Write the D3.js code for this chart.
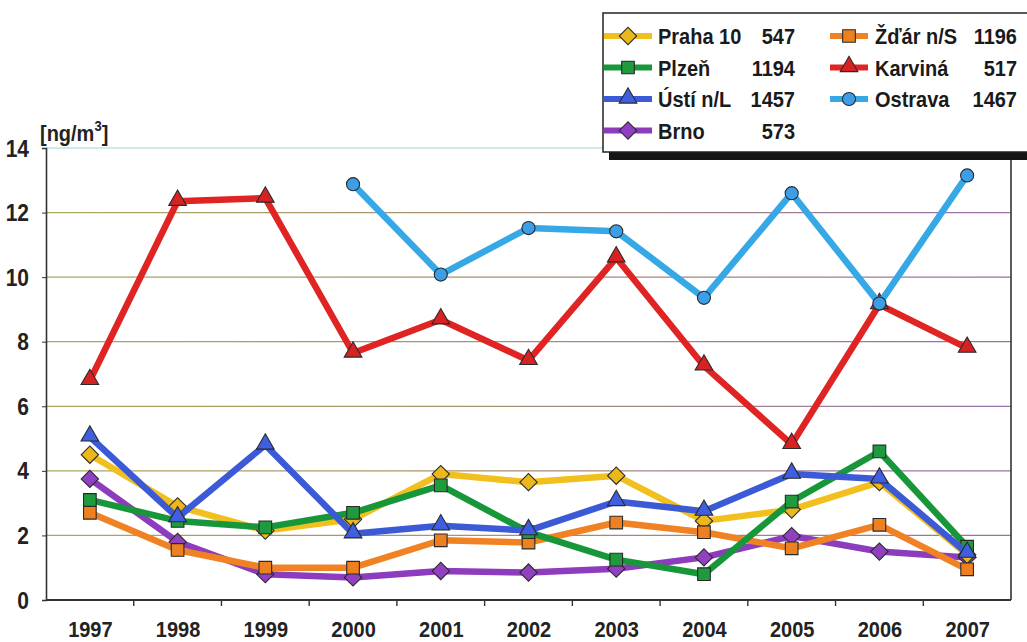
<!DOCTYPE html>
<html>
<head>
<meta charset="utf-8">
<script src="https://cdn.jsdelivr.net/npm/d3@7"></script>
<style>
  html, body { margin: 0; padding: 0; background: #fff; }
  svg { display: block; font-family: "Liberation Sans", Arial, sans-serif; }
</style>
</head>
<body>
<svg id="chart" width="1027" height="642"></svg>
<script>
// Annual mean concentrations [ng/m3] at monitoring stations, 1997–2007
const years = ["1997","1998","1999","2000","2001","2002","2003","2004","2005","2006","2007"];
const yTicks = [0, 2, 4, 6, 8, 10, 12, 14];
const unitLabel = "[ng/m";

const praha   = [4.5, 2.9, 2.15, 2.5, 3.9, 3.65, 3.85, 2.45, 2.8, 3.65, 1.4];
const plzen   = [3.1, 2.45, 2.25, 2.7, 3.55, 2.1, 1.25, 0.8, 3.05, 4.6, 1.65];
const usti    = [5.05, 2.55, 4.8, 2.05, 2.3, 2.15, 3.05, 2.75, 3.9, 3.75, 1.45];
const brno    = [3.75, 1.8, 0.8, 0.7, 0.9, 0.85, 0.97, 1.32, 1.98, 1.5, 1.32];
const zdar    = [2.7, 1.55, 1.0, 1.0, 1.85, 1.78, 2.4, 2.1, 1.6, 2.33, 0.95];
const karvina = [6.8, 12.35, 12.45, 7.65, 8.68, 7.42, 10.6, 7.25, 4.82, 9.15, 7.8];
const ostrava = [null, null, null, 12.88, 10.08, 11.52, 11.42, 9.36, 12.6, 9.18, 13.15];

const names   = ["Praha 10", "Plzeň", "Ústí n/L", "Brno", "Žďár n/S", "Karviná", "Ostrava"];
const codes   = ["547", "1194", "1457", "573", "1196", "517", "1467"];

const series = [
  { name: names[0], code: codes[0], values: praha,   color: "#f2c01e", fill: "#eab81c", shape: "diamond" },
  { name: names[1], code: codes[1], values: plzen,   color: "#18963a", fill: "#1f9a3c", shape: "square" },
  { name: names[2], code: codes[2], values: usti,    color: "#3d5ad6", fill: "#3f5ee0", shape: "triangle" },
  { name: names[3], code: codes[3], values: brno,    color: "#8c3cbc", fill: "#9140c2", shape: "diamond" },
  { name: names[4], code: codes[4], values: zdar,    color: "#f08224", fill: "#ee8020", shape: "square" },
  { name: names[5], code: codes[5], values: karvina, color: "#e02424", fill: "#d82222", shape: "triangle" },
  { name: names[6], code: codes[6], values: ostrava, color: "#36a8e6", fill: "#3d9ee8", shape: "circle" }
];
// painting order, back to front
const drawOrder = [3, 0, 4, 1, 2, 5, 6];

const svg = d3.select("#chart");
const plot = { left: 46, right: 1011, top: 148, bottom: 600 };
const stretch = 1.12;   // tall lettering
const fontSize = 20;

const x = d3.scalePoint().domain(years).range([plot.left, plot.right]).padding(0.5);
const xb = d3.scaleBand().domain(years).range([plot.left, plot.right]);
const y = d3.scaleLinear().domain([0, 14]).range([plot.bottom, plot.top]);

// gridlines shade from olive on the left to violet on the right
const defs = svg.append("defs");
const grad = defs.append("linearGradient").attr("id", "gridShade")
  .attr("gradientUnits", "userSpaceOnUse")
  .attr("x1", plot.left).attr("x2", plot.right).attr("y1", 0).attr("y2", 0);
grad.append("stop").attr("offset", "0%").attr("stop-color", "#a9a860");
grad.append("stop").attr("offset", "45%").attr("stop-color", "#a89070");
grad.append("stop").attr("offset", "100%").attr("stop-color", "#9a70a8");

svg.append("g").selectAll("line")
  .data(yTicks.filter(d => d > 0))
  .join("line")
  .attr("x1", plot.left).attr("x2", plot.right)
  .attr("y1", d => y(d)).attr("y2", d => y(d))
  .attr("stroke", d => d === 14 ? "#bfe0e0" : "url(#gridShade)")
  .attr("stroke-width", 1.3);

// y axis
const yAxis = svg.append("g")
  .attr("transform", `translate(${plot.left},0)`)
  .call(d3.axisLeft(y).tickValues(yTicks).tickSize(4).tickPadding(13));
yAxis.select(".domain").attr("stroke", "#333").attr("stroke-width", 1.6);
yAxis.selectAll(".tick line").attr("stroke", "#333");
yAxis.selectAll(".tick text")
  .attr("font-size", fontSize + 1).attr("font-weight", "bold").attr("fill", "#222")
  .attr("font-family", "Liberation Sans, Arial, sans-serif")
  .attr("y", 0)
  .attr("dy", "0.34em")
  .attr("transform", `scale(1,${stretch})`);

// right frame
svg.append("line")
  .attr("x1", plot.right).attr("x2", plot.right)
  .attr("y1", plot.top).attr("y2", plot.bottom)
  .attr("stroke", "#333").attr("stroke-width", 1.6);

// x axis: labels at categories, ticks between them
const xAxis = svg.append("g")
  .attr("transform", `translate(0,${plot.bottom})`)
  .call(d3.axisBottom(x).tickSize(0).tickPadding(0));
xAxis.select(".domain").remove();
xAxis.selectAll(".tick text")
  .attr("font-size", fontSize).attr("font-weight", "bold").attr("fill", "#222")
  .attr("font-family", "Liberation Sans, Arial, sans-serif")
  .attr("dy", null)
  .attr("y", 0)
  .attr("transform", `translate(0,37) scale(1,${stretch})`);

svg.append("line")
  .attr("x1", plot.left).attr("x2", plot.right)
  .attr("y1", plot.bottom).attr("y2", plot.bottom)
  .attr("stroke", "#333").attr("stroke-width", 1.8);
svg.append("g").selectAll("line")
  .data(years.slice(1))
  .join("line")
  .attr("x1", d => xb(d)).attr("x2", d => xb(d))
  .attr("y1", plot.bottom).attr("y2", plot.bottom + 6)
  .attr("stroke", "#333").attr("stroke-width", 1.4);

// unit label
const unit = svg.append("text")
  .attr("transform", `translate(40,141) scale(1,${stretch})`)
  .attr("font-size", 20).attr("font-weight", "bold").attr("fill", "#222");
unit.append("tspan").text(unitLabel);
unit.append("tspan").attr("font-size", 13).attr("dy", -9).text("3");
unit.append("tspan").attr("dy", 9).text("]");

// marker shapes
function markerPath(shape) {
  if (shape === "diamond") return d3.symbol().type(d3.symbolSquare).size(150)();
  if (shape === "square") return d3.symbol().type(d3.symbolSquare).size(160)();
  if (shape === "triangle") return d3.symbol().type(d3.symbolTriangle).size(135)();
  return d3.symbol().type(d3.symbolCircle).size(135)();
}
function markerTransform(shape, px, py) {
  if (shape === "diamond") return `translate(${px},${py}) rotate(45)`;
  if (shape === "triangle") return `translate(${px},${py - 1})`;
  return `translate(${px},${py})`;
}

const line = d3.line()
  .defined(d => d.v != null)
  .x(d => x(d.year))
  .y(d => y(d.v));

const seriesG = svg.append("g");
drawOrder.forEach(i => {
  const s = series[i];
  const pts = years.map((yr, k) => ({ year: yr, v: s.values[k] }));
  const g = seriesG.append("g");
  g.append("path")
    .datum(pts)
    .attr("d", line)
    .attr("fill", "none")
    .attr("stroke", s.color)
    .attr("stroke-width", 6.5)
    .attr("stroke-linejoin", "round");
  g.selectAll("path.mk")
    .data(pts.filter(d => d.v != null))
    .join("path")
    .attr("class", "mk")
    .attr("d", markerPath(s.shape))
    .attr("transform", d => markerTransform(s.shape, x(d.year), y(d.v)))
    .attr("fill", s.fill)
    .attr("stroke", "#2a2a2a")
    .attr("stroke-width", 1.1);
});

// legend
const lg = svg.append("g");
lg.append("rect").attr("x", 609).attr("y", 19).attr("width", 460).attr("height", 141).attr("fill", "#151515");
lg.append("rect").attr("x", 603).attr("y", 13).attr("width", 460).attr("height", 139)
  .attr("fill", "#fff").attr("stroke", "#222").attr("stroke-width", 1.5);

const legendRows = [36, 67.5, 99, 130.5];
const legendCols = [
  { line0: 604, line1: 652, mark: 628, text: 658, num: 795 },
  { line0: 830, line1: 868, mark: 849, text: 875, num: 1017 }
];
const legendPos = [[0, 0], [0, 1], [0, 2], [0, 3], [1, 0], [1, 1], [1, 2]];
series.forEach((s, i) => {
  const c = legendCols[legendPos[i][0]];
  const ry = legendRows[legendPos[i][1]];
  const item = lg.append("g");
  item.append("line")
    .attr("x1", c.line0).attr("x2", c.line1)
    .attr("y1", ry).attr("y2", ry)
    .attr("stroke", s.color).attr("stroke-width", 6);
  item.append("path")
    .attr("d", markerPath(s.shape))
    .attr("transform", markerTransform(s.shape, c.mark, ry))
    .attr("fill", s.fill).attr("stroke", "#2a2a2a").attr("stroke-width", 1.1);
  item.append("text")
    .attr("transform", `translate(${c.text},${ry + 8}) scale(1,${stretch})`)
    .attr("font-size", fontSize).attr("font-weight", "bold").attr("fill", "#1a1a1a")
    .text(s.name);
  item.append("text")
    .attr("transform", `translate(${c.num},${ry + 8}) scale(1,${stretch})`)
    .attr("text-anchor", "end")
    .attr("font-size", fontSize).attr("font-weight", "bold").attr("fill", "#1a1a1a")
    .text(s.code);
});
</script>
</body>
</html>
